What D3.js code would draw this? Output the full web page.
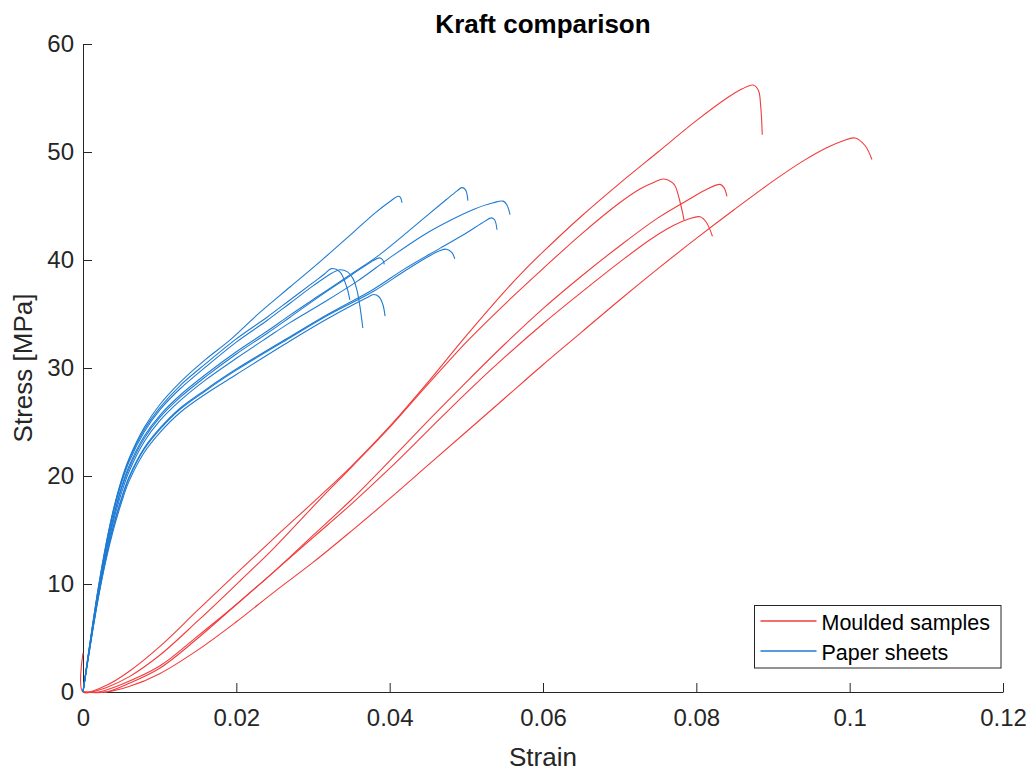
<!DOCTYPE html>
<html>
<head>
<meta charset="utf-8">
<script src="https://cdn.jsdelivr.net/npm/d3@7"></script>
<style>
  html, body { margin: 0; padding: 0; background: #ffffff; }
  svg { display: block; font-family: "Liberation Sans", Arial, Helvetica, sans-serif; }
</style>
</head>
<body>
<svg id="chart" width="1034" height="774"></svg>
<script>
// Axis ticks
const xTicks = [0, 0.02, 0.04, 0.06, 0.08, 0.1, 0.12];
const yTicks = [0, 10, 20, 30, 40, 50, 60];

// Legend labels
const seriesNames = ["Moulded samples", "Paper sheets"];

// Moulded samples: [strain, stress MPa]
const moulded1 = [[0,3.6],[0,0],[0.003,0.6],[0.006,1.9],[0.010,4.2],[0.015,7.6],[0.0205,11.3],[0.025,14.3],[0.031,18.2],[0.035,20.9],[0.040,24.6],[0.045,28.7],[0.050,33.0],[0.055,37.1],[0.0575,39.0],[0.060,40.75],[0.065,44.05],[0.070,47.1],[0.075,50.0],[0.080,52.9],[0.084,55.0],[0.086,55.85],[0.0874,56.2],[0.0881,55.7],[0.0884,54.2],[0.0886,51.6]];
const moulded2 = [[0,0],[0.003,0],[0.006,0.5],[0.010,1.7],[0.015,3.9],[0.020,6.5],[0.025,9.3],[0.030,12.0],[0.035,14.9],[0.040,17.9],[0.045,21.0],[0.050,24.1],[0.055,27.2],[0.060,30.3],[0.065,33.3],[0.070,36.3],[0.075,39.2],[0.080,42.0],[0.085,44.7],[0.090,47.3],[0.094,49.2],[0.097,50.4],[0.099,51.0],[0.1007,51.3],[0.102,50.6],[0.1029,49.3]];
const moulded3 = [[0,0],[0.001,0],[0.003,0.4],[0.006,1.4],[0.010,3.4],[0.015,6.6],[0.0205,10.3],[0.025,13.4],[0.031,17.9],[0.035,20.8],[0.040,24.5],[0.045,28.5],[0.050,32.4],[0.055,35.9],[0.060,39.2],[0.065,42.4],[0.070,45.3],[0.0727,46.6],[0.0745,47.2],[0.0757,47.5],[0.0766,47.3],[0.0772,46.9],[0.0779,45.3],[0.0784,43.7]];
const moulded4 = [[0,0],[0.002,0],[0.005,0.7],[0.010,2.4],[0.015,5.2],[0.020,8.1],[0.025,11.2],[0.030,14.5],[0.035,17.8],[0.040,21.4],[0.045,25.1],[0.050,28.7],[0.055,32.2],[0.060,35.5],[0.065,38.5],[0.070,41.3],[0.075,43.9],[0.079,45.6],[0.0815,46.6],[0.0831,47.0],[0.0836,46.7],[0.0840,45.9]];
const moulded5 = [[0,0],[0.003,0],[0.006,0.8],[0.010,2.2],[0.015,5.0],[0.020,8.1],[0.025,11.2],[0.030,14.3],[0.035,17.4],[0.040,20.7],[0.045,24.2],[0.050,27.7],[0.055,31.0],[0.060,34.1],[0.065,37.0],[0.070,39.8],[0.074,41.9],[0.077,43.2],[0.079,43.8],[0.0805,44.0],[0.0813,43.5],[0.0821,42.2]];

// Paper sheets: [strain, stress MPa]
const paperA = [[0,0],[0.001,5.0],[0.002,9.7],[0.003,13.7],[0.004,17.0],[0.005,19.6],[0.006,21.6],[0.008,24.5],[0.010,26.6],[0.0127,28.7],[0.016,30.8],[0.0192,32.6],[0.023,35.1],[0.027,37.5],[0.031,39.9],[0.035,42.4],[0.038,44.3],[0.040,45.4],[0.0411,45.9],[0.0414,45.8],[0.0416,45.3]];
const paperB = [[0,0],[0.001,4.8],[0.002,9.3],[0.003,13.1],[0.004,16.3],[0.005,18.9],[0.006,20.9],[0.008,23.7],[0.010,25.6],[0.0127,27.5],[0.016,29.4],[0.020,31.5],[0.024,33.4],[0.027,34.9],[0.031,36.8],[0.035,38.7],[0.0387,40.5],[0.043,43.0],[0.0474,45.6],[0.0488,46.4],[0.0494,46.7],[0.0499,46.5],[0.0502,45.5]];
const paperC = [[0,0],[0.001,4.7],[0.002,9.1],[0.003,12.8],[0.004,15.9],[0.005,18.4],[0.006,20.4],[0.008,23.2],[0.010,25.1],[0.0127,27.0],[0.016,28.9],[0.020,30.9],[0.024,32.8],[0.027,34.2],[0.031,35.9],[0.0357,38.0],[0.040,40.2],[0.0444,42.3],[0.048,43.7],[0.051,44.7],[0.0535,45.3],[0.0548,45.45],[0.0553,45.1],[0.0557,44.2]];
const paperD = [[0,0],[0.001,4.6],[0.002,8.9],[0.003,12.5],[0.004,15.5],[0.005,17.9],[0.006,19.9],[0.008,22.6],[0.010,24.4],[0.0127,26.3],[0.016,28.0],[0.020,29.9],[0.027,32.9],[0.032,35.0],[0.0379,37.3],[0.042,39.2],[0.0466,41.1],[0.050,42.5],[0.052,43.4],[0.0533,43.9],[0.0537,43.7],[0.0540,42.8]];
const paperE = [[0,0],[0.001,4.6],[0.002,8.8],[0.003,12.4],[0.004,15.4],[0.005,17.8],[0.006,19.8],[0.008,22.5],[0.010,24.3],[0.0127,26.2],[0.016,27.9],[0.020,29.8],[0.027,32.8],[0.032,34.9],[0.0379,37.1],[0.042,39.0],[0.045,40.3],[0.0465,40.85],[0.0474,41.0],[0.0481,40.7],[0.0485,40.1]];
const paperF = [[0,0],[0.001,4.8],[0.002,9.3],[0.003,13.0],[0.004,16.2],[0.005,18.8],[0.006,20.7],[0.008,23.5],[0.010,25.4],[0.0127,27.3],[0.016,29.2],[0.020,31.3],[0.024,33.2],[0.027,34.7],[0.031,36.7],[0.035,38.6],[0.0375,39.8],[0.0387,40.2],[0.0391,40.0],[0.0393,39.6]];
const paperG = [[0,0],[0.001,5.0],[0.002,9.6],[0.003,13.6],[0.004,16.9],[0.005,19.5],[0.006,21.5],[0.008,24.3],[0.010,26.3],[0.0127,28.4],[0.016,30.4],[0.020,32.7],[0.024,34.7],[0.027,36.3],[0.030,37.9],[0.0315,38.7],[0.0324,39.2],[0.0335,38.9],[0.0344,37.5],[0.0348,36.3]];
const paperH = [[0,0],[0.001,4.9],[0.002,9.5],[0.003,13.4],[0.004,16.7],[0.005,19.3],[0.006,21.3],[0.008,24.1],[0.010,26.1],[0.0127,28.1],[0.016,30.1],[0.020,32.4],[0.024,34.4],[0.027,36.0],[0.030,37.6],[0.0325,38.8],[0.0335,39.1],[0.0345,38.9],[0.0352,38.3],[0.0357,37.3],[0.0361,35.8],[0.0365,33.7]];
const paperI = [[0,0],[0.001,4.5],[0.002,8.7],[0.003,12.2],[0.004,15.1],[0.005,17.5],[0.006,19.5],[0.008,22.2],[0.010,24.0],[0.0127,25.9],[0.016,27.6],[0.020,29.4],[0.027,32.5],[0.032,34.6],[0.0370,36.5],[0.0379,36.8],[0.0386,36.6],[0.0391,35.9],[0.0394,34.8]];

const mouldedCurves = [moulded1, moulded2, moulded3, moulded4, moulded5];
const paperCurves = [paperA, paperB, paperC, paperD, paperE, paperF, paperG, paperH, paperI];

const RED = "#f23c3c";
const BLUE = "#1f7bd2";
const AXIS = "#262626";

const svg = d3.select("#chart");

const x = d3.scaleLinear().domain([0, 0.12]).range([83, 1003]);
const y = d3.scaleLinear().domain([0, 60]).range([692, 44]);

// Axes: left and bottom only, ticks pointing into the plot
const xAxis = svg.append("g")
  .attr("transform", `translate(0,${y(0)})`)
  .call(d3.axisBottom(x).tickValues(xTicks).tickSizeInner(-9).tickSizeOuter(0)
    .tickPadding(17).tickFormat(d => String(d)));

const yAxis = svg.append("g")
  .attr("transform", `translate(${x(0)},0)`)
  .call(d3.axisLeft(y).tickValues(yTicks).tickSizeInner(-9).tickSizeOuter(0)
    .tickPadding(9).tickFormat(d => String(d)));

[xAxis, yAxis].forEach(g => {
  g.attr("font-family", null).attr("font-size", null);
  g.select(".domain").attr("stroke", AXIS).attr("stroke-width", 1);
  g.selectAll(".tick line").attr("stroke", AXIS).attr("stroke-width", 1);
  g.selectAll(".tick text").attr("fill", AXIS).style("font-size", "24px");
});

// Curves
const line = d3.line()
  .x(d => x(d[0]))
  .y(d => y(d[1]))
  .curve(d3.curveCatmullRom.alpha(0.5));

svg.append("g").selectAll("path.moulded")
  .data(mouldedCurves)
  .join("path")
  .attr("class", "moulded")
  .attr("d", line)
  .attr("fill", "none")
  .attr("stroke", RED)
  .attr("stroke-width", 1.1);

svg.append("g").selectAll("path.paper")
  .data(paperCurves)
  .join("path")
  .attr("class", "paper")
  .attr("d", line)
  .attr("fill", "none")
  .attr("stroke", BLUE)
  .attr("stroke-width", 1.1);

// Title and axis labels
svg.append("text")
  .attr("x", (x(0) + x(0.12)) / 2)
  .attr("y", 33)
  .attr("text-anchor", "middle")
  .attr("fill", "#000")
  .style("font-size", "26px")
  .style("font-weight", "bold")
  .text("Kraft comparison");

svg.append("text")
  .attr("x", (x(0) + x(0.12)) / 2)
  .attr("y", 766)
  .attr("text-anchor", "middle")
  .attr("fill", AXIS)
  .style("font-size", "26px")
  .text("Strain");

svg.append("text")
  .attr("transform", `translate(32,${(y(0) + y(60)) / 2}) rotate(-90)`)
  .attr("text-anchor", "middle")
  .attr("fill", AXIS)
  .style("font-size", "26px")
  .text("Stress [MPa]");

// Legend
const legend = svg.append("g").attr("transform", "translate(754.5,605.5)");
legend.append("rect")
  .attr("width", 246.5).attr("height", 62.5)
  .attr("fill", "#fff").attr("stroke", AXIS).attr("stroke-width", 1);

const legendColors = [RED, BLUE];
seriesNames.forEach((name, i) => {
  const cy = 15.5 + i * 30;
  legend.append("line")
    .attr("x1", 6).attr("x2", 62).attr("y1", cy).attr("y2", cy)
    .style("stroke", legendColors[i]).style("stroke-width", "1.3px");
  legend.append("text")
    .attr("x", 67).attr("y", cy + 8.5)
    .attr("fill", "#000")
    .style("font-size", "21.5px")
    .text(name);
});
</script>
</body>
</html>
